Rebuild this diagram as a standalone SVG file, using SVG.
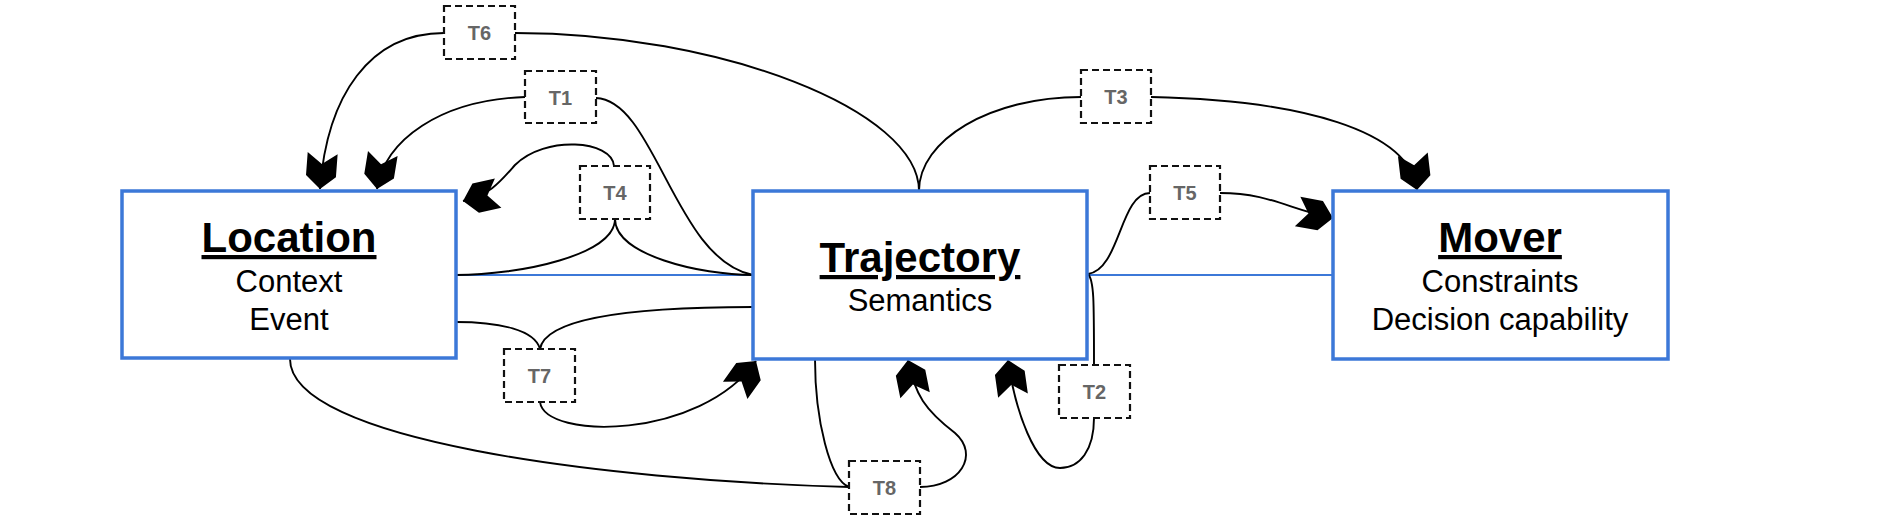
<svg xmlns="http://www.w3.org/2000/svg" width="1878" height="530" viewBox="0 0 1878 530">
<style>
.box{fill:#fff;stroke:#3c78d8;stroke-width:3.5}
.lbl{fill:#fff;stroke:#111;stroke-width:2.2;stroke-dasharray:7,4}
.title{font-family:"Liberation Sans",Arial,sans-serif;font-weight:bold;font-size:42px;fill:#000;text-anchor:middle;text-decoration:underline}
.sub{font-family:"Liberation Sans",Arial,sans-serif;font-size:31px;fill:#000;text-anchor:middle}
.t{font-family:"Liberation Sans",Arial,sans-serif;font-weight:bold;font-size:20px;fill:#666;text-anchor:middle}
.c{fill:none;stroke:#000;stroke-width:1.9}
.ca{fill:none;stroke:#000;stroke-width:1.9;marker-end:url(#arr)}
.blue{fill:none;stroke:#3c78d8;stroke-width:1.8}
</style>
<defs>
<marker id="arr" markerUnits="userSpaceOnUse" viewBox="-37 -16 38 32" markerWidth="38" markerHeight="32" refX="0" refY="0" orient="auto">
<path d="M0,0 L-13,-15 L-36,-15 L-25,0 L-36,15 L-13,15 Z" fill="#000"/>
</marker>
</defs>
<rect width="1878" height="530" fill="#fff"/>
<g id="connectors">
<line class="blue" x1="456" y1="275" x2="753" y2="275"/>
<line class="blue" x1="1087" y1="275" x2="1333" y2="275"/>
<path class="c" d="M919,191 C919,110 720,33 515,33"/>
<path class="ca" d="M444,33 C370,33 327,95 320,189"/>
<path class="ca" d="M525,97 C440,100 385,140 377,189"/>
<path class="c" d="M596,98 C655,100 675,260 753,275"/>
<path class="c" d="M615,219 C615,255 520,275 456,275"/>
<path class="c" d="M615,219 C615,255 700,275 753,275"/>
<path class="ca" d="M614,166 C612,140 545,135 515,165 C500,182 490,195 463,201"/>
<path class="c" d="M919,191 C919,140 990,97 1081,97"/>
<path class="ca" d="M1151,97 C1300,100 1410,130 1417,190"/>
<path class="c" d="M1088,274 C1120,270 1120,193 1150,193"/>
<path class="ca" d="M1220,193 C1270,193 1290,210 1333,218"/>
<path class="c" d="M1088,274 C1094,280 1094,300 1094,365"/>
<path class="ca" d="M1094,418 C1094,450 1080,468 1060,468 C1035,468 1015,410 1008,360"/>
<path class="c" d="M540,349 C535,330 500,322 456,322"/>
<path class="c" d="M540,349 C545,320 620,307 753,307"/>
<path class="ca" d="M540,402 C545,440 700,440 756,361"/>
<path class="c" d="M290,359 C290,440 600,480 849,487"/>
<path class="c" d="M815,359 C815,420 830,480 849,487"/>
<path class="ca" d="M920,487 C960,487 980,455 955,433 C925,410 915,395 908,360"/>
</g>
<g id="location">
<rect class="box" x="122" y="191" width="334" height="167"/>
<text class="title" x="289" y="252">Location</text>
<text class="sub" x="289" y="292">Context</text>
<text class="sub" x="289" y="330">Event</text>
</g>
<g id="trajectory">
<rect class="box" x="753" y="191" width="334" height="168"/>
<text class="title" x="920" y="272">Trajectory</text>
<text class="sub" x="920" y="311">Semantics</text>
</g>
<g id="mover">
<rect class="box" x="1333" y="191" width="335" height="168"/>
<text class="title" x="1500" y="252">Mover</text>
<text class="sub" x="1500" y="292">Constraints</text>
<text class="sub" x="1500" y="330">Decision capability</text>
</g>
<g id="T6"><rect class="lbl" x="444" y="6" width="71" height="53"/><text class="t" x="479.5" y="40">T6</text></g>
<g id="T1"><rect class="lbl" x="525" y="71" width="71" height="52"/><text class="t" x="560.5" y="104.5">T1</text></g>
<g id="T4"><rect class="lbl" x="580" y="166" width="70" height="53"/><text class="t" x="615" y="200">T4</text></g>
<g id="T3"><rect class="lbl" x="1081" y="70" width="70" height="53"/><text class="t" x="1116" y="104">T3</text></g>
<g id="T5"><rect class="lbl" x="1150" y="166" width="70" height="53"/><text class="t" x="1185" y="200">T5</text></g>
<g id="T2"><rect class="lbl" x="1059" y="365" width="71" height="53"/><text class="t" x="1094.5" y="399">T2</text></g>
<g id="T7"><rect class="lbl" x="504" y="349" width="71" height="53"/><text class="t" x="539.5" y="383">T7</text></g>
<g id="T8"><rect class="lbl" x="849" y="461" width="71" height="53"/><text class="t" x="884.5" y="495">T8</text></g>
</svg>
